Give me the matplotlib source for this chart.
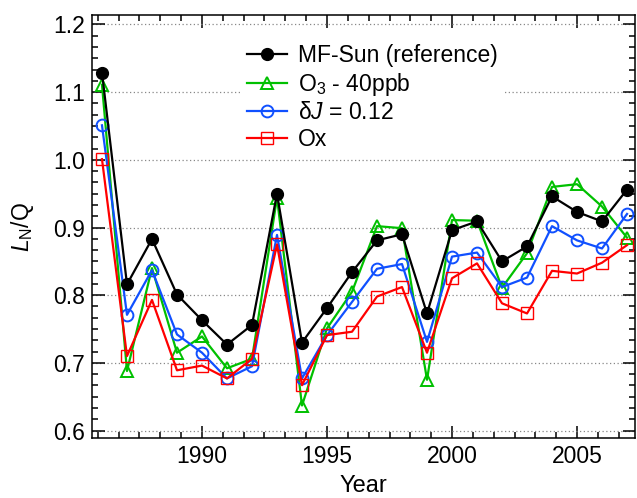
import matplotlib
matplotlib.use('Agg')
import matplotlib.pyplot as plt
from matplotlib.ticker import MultipleLocator
import numpy as np

plt.rcParams['font.family'] = ['Liberation Sans', 'DejaVu Sans']
plt.rcParams['mathtext.fontset'] = 'custom'
plt.rcParams['mathtext.it'] = 'Liberation Sans:italic'
plt.rcParams['mathtext.rm'] = 'Liberation Sans'

years = np.arange(1986, 2008)

# L_N/Q per year
mf_sun = [1.129, 0.816, 0.883, 0.801, 0.763, 0.727, 0.756, 0.950, 0.730, 0.781, 0.834,
          0.881, 0.890, 0.773, 0.896, 0.909, 0.850, 0.872, 0.946, 0.923, 0.909, 0.956]
o3_40ppb = [1.111, 0.688, 0.840, 0.715, 0.739, 0.692, 0.706, 0.944, 0.637, 0.751, 0.805,
            0.902, 0.899, 0.675, 0.911, 0.910, 0.811, 0.862, 0.960, 0.964, 0.931, 0.885]
dj_012 = [1.051, 0.771, 0.837, 0.742, 0.715, 0.677, 0.695, 0.889, 0.677, 0.741, 0.790,
          0.839, 0.846, 0.731, 0.857, 0.863, 0.812, 0.826, 0.902, 0.881, 0.869, 0.920]
ox = [1.001, 0.710, 0.793, 0.689, 0.696, 0.677, 0.706, 0.875, 0.667, 0.741, 0.746,
      0.798, 0.812, 0.715, 0.825, 0.847, 0.788, 0.773, 0.836, 0.832, 0.848, 0.874]

fs = 16.5

fig = plt.figure(figsize=(6.37, 4.98), dpi=100)
ax = fig.add_axes([0.1444, 0.1205, 0.8525, 0.8494])

lw = 1.6
ax.plot(years, o3_40ppb, color='#00c000', lw=lw, marker='^', ms=8.5, mfc='none', mew=1.4,
        label='O$_3$ - 40ppb', zorder=3)
ax.plot(years, dj_012, color='#1050ff', lw=lw, marker='o', ms=8.5, mfc='none', mew=1.4,
        label='δ$J$ = 0.12', zorder=4)
ax.plot(years, ox, color='#ff0000', lw=lw, marker='s', ms=8, mfc='none', mew=1.0,
        label='Ox', zorder=5)
ax.plot(years, mf_sun, color='black', lw=lw, marker='o', ms=8.5, label='MF-Sun (reference)', zorder=6)

ax.set_xlim(1985.6, 2007.32)
ax.set_ylim(0.589, 1.214)

ax.xaxis.set_major_locator(MultipleLocator(5))
ax.xaxis.set_minor_locator(MultipleLocator(5 / 6))
ax.yaxis.set_major_locator(MultipleLocator(0.1))
ax.yaxis.set_minor_locator(MultipleLocator(0.1 / 6))
ax.yaxis.set_major_formatter(matplotlib.ticker.FormatStrFormatter('%.1f'))

ax.tick_params(which='both', direction='in', top=True, right=True, labelsize=fs, width=1.1)
ax.tick_params(which='major', length=9)
ax.tick_params(which='minor', length=4.5)
ax.tick_params(axis='x', pad=5)
ax.tick_params(axis='y', pad=5)
for s in ax.spines.values():
    s.set_linewidth(1.1)

ax.yaxis.grid(True, which='major', color='#888888', linestyle=(0, (1, 2)), linewidth=0.9)
ax.set_axisbelow(True)

ax.set_xlabel('Year', fontsize=17, labelpad=5)
ax.set_ylabel(r'$L_{\mathrm{N}}$/Q', fontsize=fs, labelpad=12.5)

h, l = ax.get_legend_handles_labels()
order = [3, 0, 1, 2]
leg = ax.legend([h[i] for i in order], [l[i] for i in order], loc='upper left',
                bbox_to_anchor=(0.251, 0.974), fontsize=fs, frameon=True, facecolor='white',
                edgecolor='none', framealpha=1, fancybox=False, handlelength=1.75,
                handletextpad=0.5, labelspacing=0.15, borderpad=0.3)
leg.set_zorder(10)

fig.savefig('out.png', dpi=100)
